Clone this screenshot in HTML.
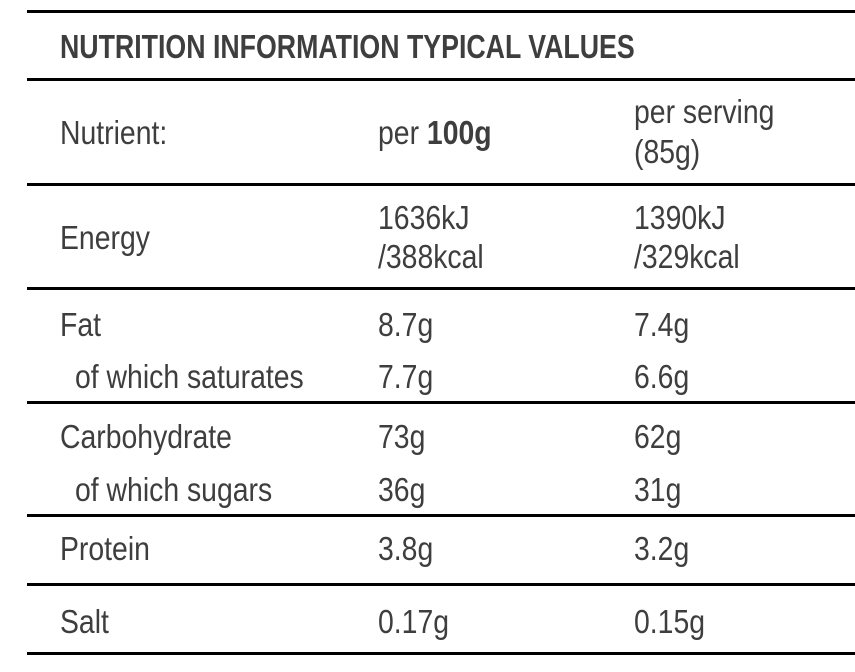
<!DOCTYPE html>
<html><head><style>
body{margin:0;width:855px;height:672px;background:#fff;position:relative;overflow:hidden;font-family:"Liberation Sans",sans-serif;color:#3e3e3e}
.l{position:absolute;left:27px;right:0;height:3px;background:#000}
.t{position:absolute;font-size:33px;line-height:30px;white-space:nowrap;transform:scaleX(0.86);transform-origin:0 0}
.b{font-weight:bold}
</style></head><body>
<div class="l" style="top:10px"></div>
<div class="l" style="top:78px"></div>
<div class="l" style="top:183px"></div>
<div class="l" style="top:287px"></div>
<div class="l" style="top:401px"></div>
<div class="l" style="top:514px"></div>
<div class="l" style="top:583px"></div>
<div class="l" style="top:652px"></div>

<div class="t b" style="left:60px;top:32px;transform:scaleX(0.81)">NUTRITION INFORMATION TYPICAL VALUES</div>

<div class="t" style="left:60px;top:118px">Nutrient:</div>
<div class="t" style="left:378px;top:118px">per <b>100g</b></div>
<div class="t" style="left:634px;top:97px">per serving</div>
<div class="t" style="left:634px;top:137px">(85g)</div>

<div class="t" style="left:60px;top:223px">Energy</div>
<div class="t" style="left:378px;top:203px">1636kJ</div>
<div class="t" style="left:378px;top:242px">/388kcal</div>
<div class="t" style="left:634px;top:203px">1390kJ</div>
<div class="t" style="left:634px;top:242px">/329kcal</div>

<div class="t" style="left:60px;top:310px">Fat</div>
<div class="t" style="left:378px;top:310px">8.7g</div>
<div class="t" style="left:634px;top:310px">7.4g</div>
<div class="t" style="left:75px;top:362px">of which saturates</div>
<div class="t" style="left:378px;top:362px">7.7g</div>
<div class="t" style="left:634px;top:362px">6.6g</div>

<div class="t" style="left:60px;top:422px">Carbohydrate</div>
<div class="t" style="left:378px;top:422px">73g</div>
<div class="t" style="left:634px;top:422px">62g</div>
<div class="t" style="left:75px;top:475px">of which sugars</div>
<div class="t" style="left:378px;top:475px">36g</div>
<div class="t" style="left:634px;top:475px">31g</div>

<div class="t" style="left:60px;top:534px">Protein</div>
<div class="t" style="left:378px;top:534px">3.8g</div>
<div class="t" style="left:634px;top:534px">3.2g</div>

<div class="t" style="left:60px;top:607px">Salt</div>
<div class="t" style="left:378px;top:607px">0.17g</div>
<div class="t" style="left:634px;top:607px">0.15g</div>
</body></html>
